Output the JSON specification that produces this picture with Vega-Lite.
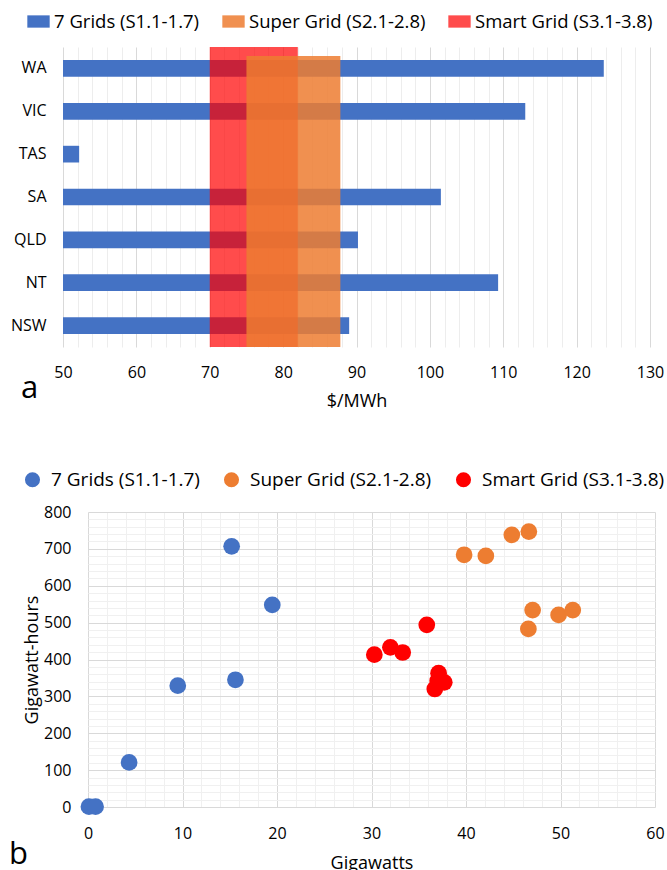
{
  "$schema": "https://vega.github.io/schema/vega-lite/v6.json",
  "padding": {"left": 9, "top": 10, "right": 0, "bottom": 0},
  "spacing": 60,
  "config": {
    "font": "Open Sans",
    "view": {"stroke": null},
    "axis": {"labelColor": "#000000", "titleColor": "#000000", "labelFont": "Open Sans", "titleFont": "Open Sans", "titleFontWeight": "normal"},
    "legend": {"labelColor": "#000000", "labelFont": "Open Sans", "labelLimit": 400},
    "title": {"color": "#000000", "font": "Open Sans"}
  },
  "resolve": {"scale": {"color": "independent", "opacity": "independent"}, "legend": {"color": "independent", "opacity": "independent"}},
  "vconcat": [
    {
      "width": 562,
      "height": 300,
      "title": {"text": "a", "orient": "bottom", "anchor": "start", "frame": "group", "fontSize": 31, "fontWeight": "normal", "baseline": "alphabetic", "dx": -67, "dy": -12, "offset": 0},
      "layer": [
        {
          "data": {"values": [
            {"state": "WA", "cost": 123.7, "series": "7 Grids (S1.1-1.7)"},
            {"state": "VIC", "cost": 113.0, "series": "7 Grids (S1.1-1.7)"},
            {"state": "TAS", "cost": 52.2, "series": "7 Grids (S1.1-1.7)"},
            {"state": "SA", "cost": 101.5, "series": "7 Grids (S1.1-1.7)"},
            {"state": "QLD", "cost": 90.2, "series": "7 Grids (S1.1-1.7)"},
            {"state": "NT", "cost": 109.3, "series": "7 Grids (S1.1-1.7)"},
            {"state": "NSW", "cost": 89.0, "series": "7 Grids (S1.1-1.7)"}
          ]},
          "mark": {"type": "bar"},
          "encoding": {
            "y": {"field": "state", "type": "nominal", "sort": ["WA", "VIC", "TAS", "SA", "QLD", "NT", "NSW"],
                  "scale": {"paddingInner": 0.61, "paddingOuter": 0.305},
                  "axis": {"title": null, "ticks": false, "domain": false, "grid": false, "labelPadding": 42, "labelFontSize": 16}},
            "x": {"field": "cost", "type": "quantitative",
                  "scale": {"domain": [50, 130], "nice": false, "zero": false, "range": [-25, 562]},
                  "axis": {"values": [50,52,54,56,58,60,62,64,66,68,70,72,74,76,78,80,82,84,86,88,90,92,94,96,98,100,102,104,106,108,110,112,114,116,118,120,122,124,126,128,130],
                           "labelExpr": "datum.value % 10 === 0 ? datum.label : ''",
                           "labelOverlap": false, "labelBound": false, "labelFlush": false,
                           "ticks": false, "domain": false, "labelPadding": 17, "labelFontSize": 16,
                           "title": "$/MWh", "titleFontSize": 18, "titlePadding": 12,
                           "grid": true,
                           "gridColor": {"condition": {"test": "datum.value % 10 === 0", "value": "#D9D9D9"}, "value": "#EDEDED"}}},
            "x2": {"datum": 50},
            "color": {"field": "series", "type": "nominal",
                      "scale": {"domain": ["7 Grids (S1.1-1.7)", "Super Grid (S2.1-2.8)", "Smart Grid (S3.1-3.8)"], "range": ["#4472C4", "#ED7D31", "#FF0000"]},
                      "legend": {"orient": "none", "legendX": -61, "legendY": -37, "direction": "horizontal", "title": null, "labelFontSize": 18.5, "labelLimit": 400, "symbolType": "M-1,-0.55H1V0.55H-1Z", "symbolSize": 500, "symbolStrokeWidth": 0, "labelOffset": 4, "columnPadding": 22}},
            "opacity": {"field": "series", "type": "nominal",
                        "scale": {"domain": ["7 Grids (S1.1-1.7)", "Super Grid (S2.1-2.8)", "Smart Grid (S3.1-3.8)"], "range": [1, 0.7, 0.75]},
                        "legend": {"orient": "none", "legendX": -61, "legendY": -37, "direction": "horizontal", "title": null, "labelFontSize": 18.5, "labelLimit": 400, "symbolType": "M-1,-0.55H1V0.55H-1Z", "symbolSize": 500, "symbolStrokeWidth": 0, "labelOffset": 4, "columnPadding": 22}}
          }
        },
        {
          "data": {"values": [{"series": "Smart Grid (S3.1-3.8)", "start": 70, "end": 82}]},
          "mark": {"type": "rect", "y2Offset": -6},
          "encoding": {
            "x": {"field": "start", "type": "quantitative",
                  "axis": {"values": [50,52,54,56,58,60,62,64,66,68,70,72,74,76,78,80,82,84,86,88,90,92,94,96,98,100,102,104,106,108,110,112,114,116,118,120,122,124,126,128,130],
                           "labelExpr": "datum.value % 10 === 0 ? datum.label : ''",
                           "labelOverlap": false, "labelBound": false, "labelFlush": false,
                           "ticks": false, "domain": false, "labelPadding": 17, "labelFontSize": 16,
                           "title": "$/MWh", "titleFontSize": 18, "titlePadding": 12,
                           "grid": true,
                           "gridColor": {"condition": {"test": "datum.value % 10 === 0", "value": "#D9D9D9"}, "value": "#EDEDED"}}},
            "x2": {"field": "end"},
            "color": {"field": "series", "type": "nominal"},
            "opacity": {"field": "series", "type": "nominal"}
          }
        },
        {
          "data": {"values": [{"series": "Super Grid (S2.1-2.8)", "start": 75, "end": 87.8}]},
          "mark": {"type": "rect", "yOffset": 9, "y2Offset": 3},
          "encoding": {
            "x": {"field": "start", "type": "quantitative",
                  "axis": {"values": [50,52,54,56,58,60,62,64,66,68,70,72,74,76,78,80,82,84,86,88,90,92,94,96,98,100,102,104,106,108,110,112,114,116,118,120,122,124,126,128,130],
                           "labelExpr": "datum.value % 10 === 0 ? datum.label : ''",
                           "labelOverlap": false, "labelBound": false, "labelFlush": false,
                           "ticks": false, "domain": false, "labelPadding": 17, "labelFontSize": 16,
                           "title": "$/MWh", "titleFontSize": 18, "titlePadding": 12,
                           "grid": true,
                           "gridColor": {"condition": {"test": "datum.value % 10 === 0", "value": "#D9D9D9"}, "value": "#EDEDED"}}},
            "x2": {"field": "end"},
            "color": {"field": "series", "type": "nominal"},
            "opacity": {"field": "series", "type": "nominal"}
          }
        }
      ]
    },
    {
      "width": 567,
      "height": 295,
      "title": {"text": "b", "orient": "bottom", "anchor": "start", "frame": "group", "fontSize": 31, "fontWeight": "normal", "baseline": "alphabetic", "dx": -79, "dy": -8, "offset": 0},
      "data": {"values": [
        {"gw": 0.1, "gwh": 1, "series": "7 Grids (S1.1-1.7)"},
        {"gw": 0.8, "gwh": 1, "series": "7 Grids (S1.1-1.7)"},
        {"gw": 4.35, "gwh": 121, "series": "7 Grids (S1.1-1.7)"},
        {"gw": 9.5, "gwh": 329, "series": "7 Grids (S1.1-1.7)"},
        {"gw": 15.6, "gwh": 345, "series": "7 Grids (S1.1-1.7)"},
        {"gw": 15.2, "gwh": 707, "series": "7 Grids (S1.1-1.7)"},
        {"gw": 19.5, "gwh": 548, "series": "7 Grids (S1.1-1.7)"},
        {"gw": 39.8, "gwh": 684, "series": "Super Grid (S2.1-2.8)"},
        {"gw": 42.1, "gwh": 681, "series": "Super Grid (S2.1-2.8)"},
        {"gw": 44.85, "gwh": 738, "series": "Super Grid (S2.1-2.8)"},
        {"gw": 46.65, "gwh": 747, "series": "Super Grid (S2.1-2.8)"},
        {"gw": 47.05, "gwh": 534, "series": "Super Grid (S2.1-2.8)"},
        {"gw": 46.6, "gwh": 483, "series": "Super Grid (S2.1-2.8)"},
        {"gw": 49.8, "gwh": 521, "series": "Super Grid (S2.1-2.8)"},
        {"gw": 51.3, "gwh": 534, "series": "Super Grid (S2.1-2.8)"},
        {"gw": 30.3, "gwh": 413, "series": "Smart Grid (S3.1-3.8)"},
        {"gw": 32.0, "gwh": 433, "series": "Smart Grid (S3.1-3.8)"},
        {"gw": 33.3, "gwh": 419, "series": "Smart Grid (S3.1-3.8)"},
        {"gw": 35.85, "gwh": 494, "series": "Smart Grid (S3.1-3.8)"},
        {"gw": 37.1, "gwh": 363, "series": "Smart Grid (S3.1-3.8)"},
        {"gw": 37.0, "gwh": 342, "series": "Smart Grid (S3.1-3.8)"},
        {"gw": 37.7, "gwh": 338, "series": "Smart Grid (S3.1-3.8)"},
        {"gw": 36.7, "gwh": 320, "series": "Smart Grid (S3.1-3.8)"}
      ]},
      "mark": {"type": "circle", "size": 280, "opacity": 1},
      "encoding": {
        "x": {"field": "gw", "type": "quantitative",
              "scale": {"domain": [0, 60], "nice": false},
              "axis": {"values": [0,2,4,6,8,10,12,14,16,18,20,22,24,26,28,30,32,34,36,38,40,42,44,46,48,50,52,54,56,58,60],
                       "labelExpr": "datum.value % 10 === 0 ? datum.label : ''",
                       "labelOverlap": false, "labelBound": false, "labelFlush": false,
                       "ticks": false, "domain": false, "labelPadding": 18, "labelFontSize": 16,
                       "title": "Gigawatts", "titleFontSize": 18, "titlePadding": 13,
                       "grid": true,
                       "gridColor": {"condition": {"test": "datum.value % 10 === 0", "value": "#D9D9D9"}, "value": "#F0F0F0"}}},
        "y": {"field": "gwh", "type": "quantitative",
              "scale": {"domain": [0, 800], "nice": false},
              "axis": {"values": [0,20,40,60,80,100,120,140,160,180,200,220,240,260,280,300,320,340,360,380,400,420,440,460,480,500,520,540,560,580,600,620,640,660,680,700,720,740,760,780,800],
                       "labelExpr": "datum.value % 100 === 0 ? datum.label : ''",
                       "labelOverlap": false, "labelBound": false, "labelFlush": false,
                       "ticks": false, "domain": false, "labelPadding": 17, "labelFontSize": 16,
                       "title": "Gigawatt-hours", "titleFontSize": 18, "titlePadding": 2,
                       "grid": true,
                       "gridColor": {"condition": {"test": "datum.value % 100 === 0", "value": "#D9D9D9"}, "value": "#F0F0F0"}}},
        "color": {"field": "series", "type": "nominal",
                  "scale": {"domain": ["7 Grids (S1.1-1.7)", "Super Grid (S2.1-2.8)", "Smart Grid (S3.1-3.8)"], "range": ["#4472C4", "#ED7D31", "#FF0000"]},
                  "legend": {"orient": "none", "legendX": -65, "legendY": -42, "direction": "horizontal", "title": null, "labelFontSize": 19, "labelLimit": 400, "symbolType": "circle", "symbolSize": 227, "symbolStrokeWidth": 0, "labelOffset": 9, "columnPadding": 22}}
      }
    }
  ]
}
